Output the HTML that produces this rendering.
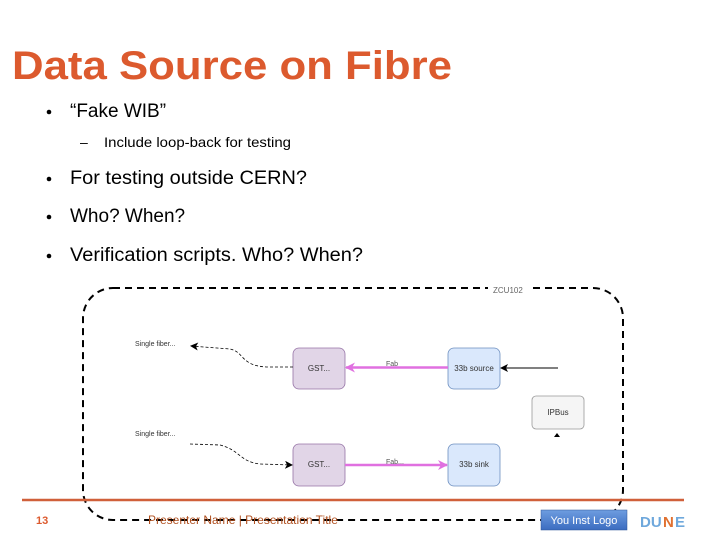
<!DOCTYPE html>
<html><head><meta charset="utf-8"><style>
html,body{margin:0;padding:0;background:#fff;}
body{width:720px;height:540px;overflow:hidden;position:relative;font-family:"Liberation Sans",sans-serif;}
</style></head><body>
<svg width="720" height="540" viewBox="0 0 720 540" xmlns="http://www.w3.org/2000/svg" style="position:absolute;left:0;top:0">
<defs>
<marker id="ab" markerWidth="8" markerHeight="8" refX="7" refY="4" orient="auto" markerUnits="userSpaceOnUse"><path d="M0,0 L8,4 L0,8 L2,4 z" fill="#000"/></marker>
<marker id="ap" markerWidth="10" markerHeight="10" refX="9" refY="5" orient="auto" markerUnits="userSpaceOnUse"><path d="M0,0 L10,5 L0,10 L3,5 z" fill="#e070e0"/></marker>
<linearGradient id="lg" x1="0" y1="0" x2="0" y2="1"><stop offset="0" stop-color="#6e9de0"/><stop offset="1" stop-color="#3b6cc0"/></linearGradient>
</defs>
<text x="12" y="79" font-size="40" font-weight="bold" fill="#dc5a2e" font-family="Liberation Sans,sans-serif" textLength="440" lengthAdjust="spacingAndGlyphs">Data Source on Fibre</text>
<g font-family="Liberation Sans,sans-serif" fill="#000">
<circle cx="49" cy="112" r="2.3"/><text x="70" y="117" font-size="19">“Fake WIB”</text>
<text x="80" y="147" font-size="14">–</text><text x="104" y="147" font-size="14" textLength="187" lengthAdjust="spacingAndGlyphs">Include loop-back for testing</text>
<circle cx="49" cy="179" r="2.3"/><text x="70" y="184" font-size="19" textLength="237" lengthAdjust="spacingAndGlyphs">For testing outside CERN?</text>
<circle cx="49" cy="217" r="2.3"/><text x="70" y="222" font-size="19">Who? When?</text>
<circle cx="49" cy="256" r="2.3"/><text x="70" y="261" font-size="19" textLength="293" lengthAdjust="spacingAndGlyphs">Verification scripts. Who? When?</text>
</g>
<rect x="83" y="288" width="540" height="232" rx="30" fill="none" stroke="#000" stroke-width="2" stroke-dasharray="7,5"/>
<rect x="488" y="284" width="40" height="10" fill="#fff"/>
<text x="493" y="293" font-size="8" fill="#666">ZCU102</text>
<rect x="293" y="348" width="52" height="41" rx="6" fill="#e1d5e7" stroke="#9673a6" stroke-width="0.8"/>
<text x="319" y="371" font-size="8" text-anchor="middle" fill="#333">GST...</text>
<rect x="293" y="444" width="52" height="42" rx="6" fill="#e1d5e7" stroke="#9673a6" stroke-width="0.8"/>
<text x="319" y="467" font-size="8" text-anchor="middle" fill="#333">GST...</text>
<rect x="448" y="348" width="52" height="41" rx="6" fill="#dae8fc" stroke="#6c8ebf" stroke-width="0.8"/>
<text x="474" y="371" font-size="8" text-anchor="middle" fill="#333">33b source</text>
<rect x="448" y="444" width="52" height="42" rx="6" fill="#dae8fc" stroke="#6c8ebf" stroke-width="0.8"/>
<text x="474" y="467" font-size="8" text-anchor="middle" fill="#333">33b sink</text>
<rect x="532" y="396" width="52" height="33" rx="4" fill="#f5f5f5" stroke="#999" stroke-width="0.8"/>
<text x="558" y="415" font-size="8" text-anchor="middle" fill="#333">IPBus</text>
<line x1="448" y1="367.5" x2="346" y2="367.5" stroke="#e070e0" stroke-width="2.5" marker-end="url(#ap)"/>
<line x1="345" y1="465" x2="447" y2="465" stroke="#e070e0" stroke-width="2.5" marker-end="url(#ap)"/>
<text x="386" y="366" font-size="7" fill="#555">Fab</text>
<text x="386" y="464" font-size="7" fill="#555">Fab...</text>
<line x1="558" y1="368" x2="501" y2="368" stroke="#000" stroke-width="1" marker-end="url(#ab)"/>
<path d="M557,433 l-3,4 l6,0 z" fill="#000"/>
<path d="M293,367 L270,367 C240,367 245,352 230,349 L191,346" fill="none" stroke="#000" stroke-width="0.8" stroke-dasharray="3,2" marker-end="url(#ab)"/>
<path d="M190,444 L220,445 C240,450 240,462 260,464 L292,465" fill="none" stroke="#000" stroke-width="0.8" stroke-dasharray="3,2" marker-end="url(#ab)"/>
<text x="135" y="346" font-size="7" fill="#333">Single fiber...</text>
<text x="135" y="436" font-size="7" fill="#333">Single fiber...</text>
<line x1="22" y1="500" x2="684" y2="500" stroke="#d0603a" stroke-width="2.5"/>
<text x="36" y="524" font-size="11" font-weight="bold" fill="#dc5a2e">13</text>
<text x="148" y="524" font-size="12" fill="#b05020">Presenter Name | Presentation Title</text>
<rect x="541" y="510" width="86" height="20" fill="url(#lg)" stroke="#2f5597" stroke-width="0.5"/>
<text x="584" y="524" font-size="11" fill="#fff" text-anchor="middle">You Inst Logo</text>
<text x="640" y="527" font-size="15" font-weight="bold" fill="#6fa8dc">DU</text>
<text x="663" y="527" font-size="15" font-weight="bold" fill="#e07030">N</text>
<text x="675" y="527" font-size="15" font-weight="bold" fill="#6fa8dc">E</text>
</svg>
</body></html>
